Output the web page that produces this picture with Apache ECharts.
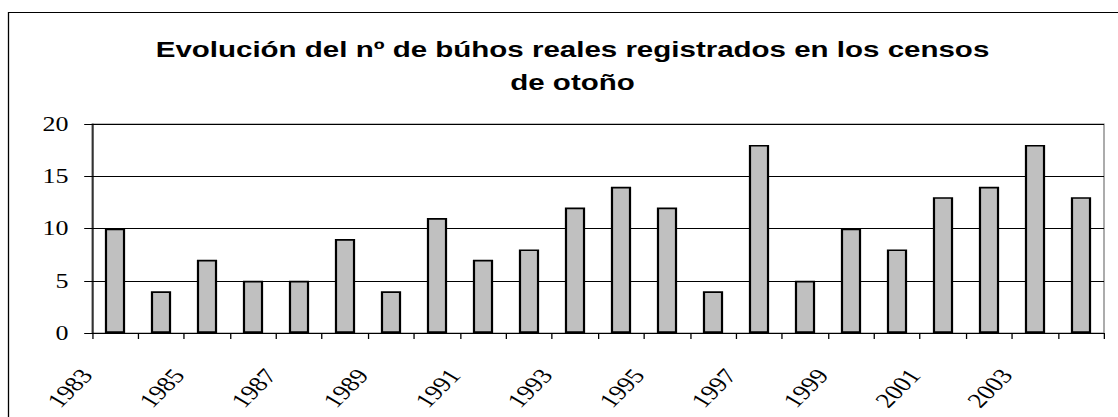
<!DOCTYPE html>
<html>
<head>
<meta charset="utf-8">
<script src="https://cdn.jsdelivr.net/npm/echarts@6/dist/echarts.min.js"></script>
<style>
html,body{margin:0;padding:0;background:#fff;overflow:hidden}
#wrap{width:1118px;height:417px;overflow:hidden;position:relative}
#c{width:860px;height:417px;transform:scaleX(1.3);transform-origin:0 0;position:absolute;left:0;top:0}
</style>
</head>
<body>
<div id="wrap"><div id="c"></div></div>
<script>
var years = ['1983','1984','1985','1986','1987','1988','1989','1990','1991','1992','1993','1994','1995','1996','1997','1998','1999','2000','2001','2002','2003','2004'];
var counts = [10,4,7,5,5,9,4,11,7,8,12,14,12,4,18,5,10,8,13,14,18,13];
var yTicks = [0,5,10,15,20];
var titleText = 'Evolución del nº de búhos reales registrados en los censos\nde otoño';

var S = 1.3; // horizontal stretch of the whole picture
var boundaryLabels = years.concat(['']);
var gl = 92 / S, gw = 1012 / S;
var chart = echarts.init(document.getElementById('c'), null, {renderer: 'svg'});
chart.setOption({
  animation: false,
  backgroundColor: '#fff',
  title: {
    text: titleText,
    left: 566 / S, top: 28, textAlign: 'center',
    textStyle: {fontFamily: 'Liberation Sans', fontWeight: 'bold', fontSize: 22.7, color: '#000', lineHeight: 33, align: 'center'}
  },
  graphic: [{
    type: 'rect', shape: {x: 8.5 / S, y: 12.5, width: 1200, height: 500},
    style: {fill: null, stroke: '#000', lineWidth: 1}, silent: true, z: -1
  }, {
    type: 'rect', shape: {x: gl, y: 124, width: gw, height: 209},
    style: {fill: null, stroke: '#808080', lineWidth: 1}, silent: true, z: 0
  }],
  grid: {left: gl, top: 124, width: gw, height: 209, containLabel: false},
  xAxis: [{
    type: 'category', data: years, position: 'bottom',
    axisLine: {lineStyle: {color: '#000', width: 1}},
    axisTick: {show: true, interval: 0, length: 6, lineStyle: {color: '#000'}},
    axisLabel: {show: false}
  }, {
    type: 'category', data: boundaryLabels, boundaryGap: false, position: 'bottom',
    axisLine: {show: false}, axisTick: {show: false},
    axisLabel: {interval: 1, rotate: 52, margin: 33, padding: [0, 7, 0, 0], fontFamily: 'Liberation Serif', fontSize: 21, color: '#000'}
  }],
  yAxis: {
    type: 'value', min: yTicks[0], max: yTicks[yTicks.length - 1], interval: 5,
    axisLine: {show: true, lineStyle: {color: '#000'}},
    axisTick: {show: true, length: 6, lineStyle: {color: '#000'}},
    axisLabel: {margin: 18, fontFamily: 'Liberation Serif', fontSize: 20, color: '#000'},
    splitLine: {lineStyle: {color: '#000', width: 1}}
  },
  series: [{
    type: 'bar', data: counts, xAxisIndex: 0, barWidth: '44%',
    itemStyle: {color: '#c0c0c0', borderColor: '#000', borderWidth: 1.7}
  }]
});
</script>
</body>
</html>
